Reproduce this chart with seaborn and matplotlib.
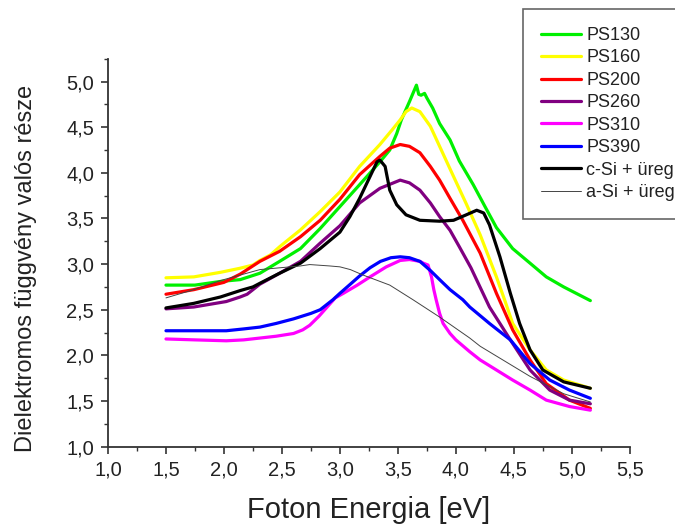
import matplotlib
matplotlib.use("Agg")
import matplotlib.pyplot as plt
from matplotlib.ticker import MultipleLocator, FuncFormatter
import seaborn as sns
import pandas as pd

# Photon energy [eV] and real part of the dielectric function for each sample
ps130_e = [1.50, 1.75, 1.97, 2.14, 2.31, 2.48, 2.66, 2.83, 3.00, 3.17, 3.345, 3.43, 3.49, 3.53, 3.60, 3.64, 3.66,
           3.68, 3.70, 3.73, 3.75, 3.80, 3.86, 3.95, 4.03, 4.15, 4.26, 4.35, 4.49, 4.64, 4.78, 4.93, 5.16]
ps130_eps = [2.77, 2.77, 2.81, 2.83, 2.90, 3.03, 3.17, 3.39, 3.63, 3.87, 4.12, 4.25, 4.43, 4.58, 4.78, 4.90, 4.96,
             4.86, 4.85, 4.87, 4.82, 4.71, 4.54, 4.36, 4.13, 3.87, 3.61, 3.40, 3.17, 3.01, 2.86, 2.75, 2.60]

ps160_e = [1.50, 1.74, 1.97, 2.14, 2.25, 2.31, 2.40, 2.48, 2.66, 2.83, 3.00, 3.17, 3.345, 3.45, 3.52, 3.57, 3.62,
           3.69, 3.78, 3.86, 3.98, 4.09, 4.21, 4.35, 4.42, 4.49, 4.64, 4.78, 4.93, 5.16]
ps160_eps = [2.85, 2.86, 2.91, 2.955, 2.99, 3.04, 3.10, 3.19, 3.375, 3.575, 3.79, 4.07, 4.31, 4.47, 4.58, 4.67, 4.71,
             4.67, 4.51, 4.29, 3.96, 3.66, 3.32, 2.86, 2.61, 2.35, 2.06, 1.84, 1.73, 1.64]

ps200_e = [1.50, 1.74, 2.00, 2.14, 2.31, 2.48, 2.66, 2.83, 3.00, 3.17, 3.345, 3.43, 3.52, 3.60, 3.69, 3.78, 3.86,
           3.95, 4.06, 4.21, 4.35, 4.49, 4.64, 4.78, 4.98, 5.16]
ps200_eps = [2.67, 2.72, 2.80, 2.89, 3.03, 3.14, 3.30, 3.48, 3.71, 3.98, 4.18, 4.27, 4.31, 4.29, 4.22, 4.07, 3.92,
             3.72, 3.48, 3.12, 2.68, 2.28, 1.95, 1.69, 1.51, 1.42]

ps260_e = [1.50, 1.74, 2.02, 2.14, 2.20, 2.31, 2.48, 2.66, 2.83, 3.00, 3.17, 3.345, 3.52, 3.60, 3.69, 3.78, 3.86,
           3.95, 4.03, 4.13, 4.29, 4.47, 4.64, 4.81, 4.98, 5.16]
ps260_eps = [2.51, 2.53, 2.59, 2.64, 2.67, 2.78, 2.90, 3.03, 3.23, 3.42, 3.67, 3.83, 3.92, 3.89, 3.81, 3.67, 3.52,
             3.37, 3.19, 2.96, 2.53, 2.17, 1.84, 1.62, 1.51, 1.47]

ps310_e = [1.50, 1.75, 2.02, 2.17, 2.31, 2.45, 2.60, 2.68, 2.74, 2.82, 2.89, 2.96, 3.03, 3.15, 3.26, 3.40, 3.52,
           3.60, 3.69, 3.72, 3.76, 3.79, 3.81, 3.83, 3.86, 3.89, 3.95, 4.00, 4.12, 4.21, 4.35, 4.49, 4.64, 4.78,
           4.98, 5.16]
ps310_eps = [2.18, 2.17, 2.16, 2.17, 2.19, 2.21, 2.24, 2.28, 2.33, 2.43, 2.53, 2.63, 2.68, 2.77, 2.86, 2.97, 3.04,
             3.05, 3.03, 3.01, 2.99, 2.86, 2.72, 2.61, 2.46, 2.35, 2.24, 2.17, 2.04, 1.95, 1.84, 1.73, 1.62, 1.51,
             1.44, 1.40]

ps390_e = [1.50, 1.75, 2.02, 2.17, 2.31, 2.45, 2.60, 2.75, 2.83, 2.94, 3.00, 3.09, 3.17, 3.26, 3.35, 3.44, 3.52,
           3.60, 3.69, 3.78, 3.86, 3.95, 4.06, 4.12, 4.29, 4.47, 4.64, 4.81, 4.98, 5.16]
ps390_eps = [2.27, 2.27, 2.27, 2.29, 2.31, 2.35, 2.40, 2.46, 2.50, 2.61, 2.68, 2.78, 2.87, 2.96, 3.03, 3.07, 3.08,
             3.07, 3.03, 2.93, 2.83, 2.72, 2.61, 2.53, 2.35, 2.17, 1.91, 1.73, 1.62, 1.53]

csi_e = [1.50, 1.74, 1.97, 2.14, 2.25, 2.31, 2.48, 2.66, 2.83, 3.00, 3.086, 3.17, 3.26, 3.32, 3.345, 3.39, 3.43,
         3.49, 3.57, 3.69, 3.86, 3.98, 4.09, 4.18, 4.24, 4.29, 4.38, 4.47, 4.55, 4.64, 4.75, 4.93, 5.16]
csi_eps = [2.52, 2.57, 2.64, 2.71, 2.75, 2.79, 2.90, 3.01, 3.17, 3.35, 3.52, 3.72, 3.96, 4.12, 4.14, 4.07, 3.81,
           3.65, 3.54, 3.48, 3.47, 3.48, 3.54, 3.59, 3.56, 3.43, 3.08, 2.68, 2.35, 2.06, 1.84, 1.71, 1.64]

asi_e = [1.50, 1.74, 1.97, 2.31, 2.66, 2.74, 2.91, 3.00, 3.09, 3.20, 3.43, 3.63, 3.86, 4.12, 4.21, 4.64, 4.93, 5.16]
asi_eps = [2.63, 2.72, 2.82, 2.94, 2.98, 2.995, 2.98, 2.97, 2.94, 2.88, 2.77, 2.61, 2.42, 2.19, 2.10, 1.77, 1.58,
           1.49]

series = [
    ("PS130", ps130_e, ps130_eps, "#00f000", 2.3),
    ("PS160", ps160_e, ps160_eps, "#ffff00", 2.3),
    ("PS200", ps200_e, ps200_eps, "#ff0000", 2.3),
    ("PS260", ps260_e, ps260_eps, "#800080", 2.3),
    ("PS310", ps310_e, ps310_eps, "#ff00ff", 2.3),
    ("PS390", ps390_e, ps390_eps, "#0000ff", 2.3),
    ("c-Si + üreg", csi_e, csi_eps, "#000000", 2.3),
    ("a-Si + üreg", asi_e, asi_eps, "#444444", 0.7),
]

sns.set_style("ticks")
plt.rcParams["font.family"] = ["Liberation Sans", "DejaVu Sans"]
plt.rcParams["text.color"] = "#222222"

fig = plt.figure(figsize=(6.75, 5.27), dpi=100)
ax = fig.add_axes([0.16, 0.1524, 0.773, 0.7362])

for name, e, eps, color, lw in series:
    df = pd.DataFrame({"E": e, "eps": eps})
    sns.lineplot(data=df, x="E", y="eps", color=color, linewidth=lw, label=name, ax=ax)

ax.set_xlim(1.0, 5.5)
ax.set_ylim(1.0, 5.25)

comma = FuncFormatter(lambda v, p: f"{v:.1f}".replace(".", ","))
ax.xaxis.set_major_locator(MultipleLocator(0.5))
ax.xaxis.set_minor_locator(MultipleLocator(0.25))
ax.yaxis.set_major_locator(MultipleLocator(0.5))
ax.yaxis.set_minor_locator(MultipleLocator(0.25))
ax.xaxis.set_major_formatter(comma)
ax.yaxis.set_major_formatter(comma)

for side in ("top", "right"):
    ax.spines[side].set_visible(False)
for side in ("left", "bottom"):
    ax.spines[side].set_color("#333333")
    ax.spines[side].set_linewidth(1.3)

ax.tick_params(which="major", direction="out", length=5, width=1.2, color="#333333",
               labelsize=14.5, labelcolor="#222222", pad=5)
ax.tick_params(which="minor", direction="out", length=3, width=1.0, color="#333333")

ax.set_xlabel("Foton Energia [eV]", fontsize=21, labelpad=12, color="#222222")
ax.set_ylabel("Dielektromos függvény valós része", fontsize=17, color="#222222")
ax.yaxis.set_label_coords(-0.136, 0.46)

ax.get_legend().remove()
handles, labels = ax.get_legend_handles_labels()
leg = fig.legend(handles, labels, loc="upper left", bbox_to_anchor=(0.775, 0.983),
                 fontsize=13, frameon=True, fancybox=False, borderpad=1.0,
                 labelspacing=0.3, handlelength=2.2, handletextpad=0.3,
                 borderaxespad=0.0)
frame = leg.get_frame()
frame.set_edgecolor("#666666")
frame.set_linewidth(1.2)
frame.set_alpha(1.0)

fig.savefig("out.png", dpi=100)
